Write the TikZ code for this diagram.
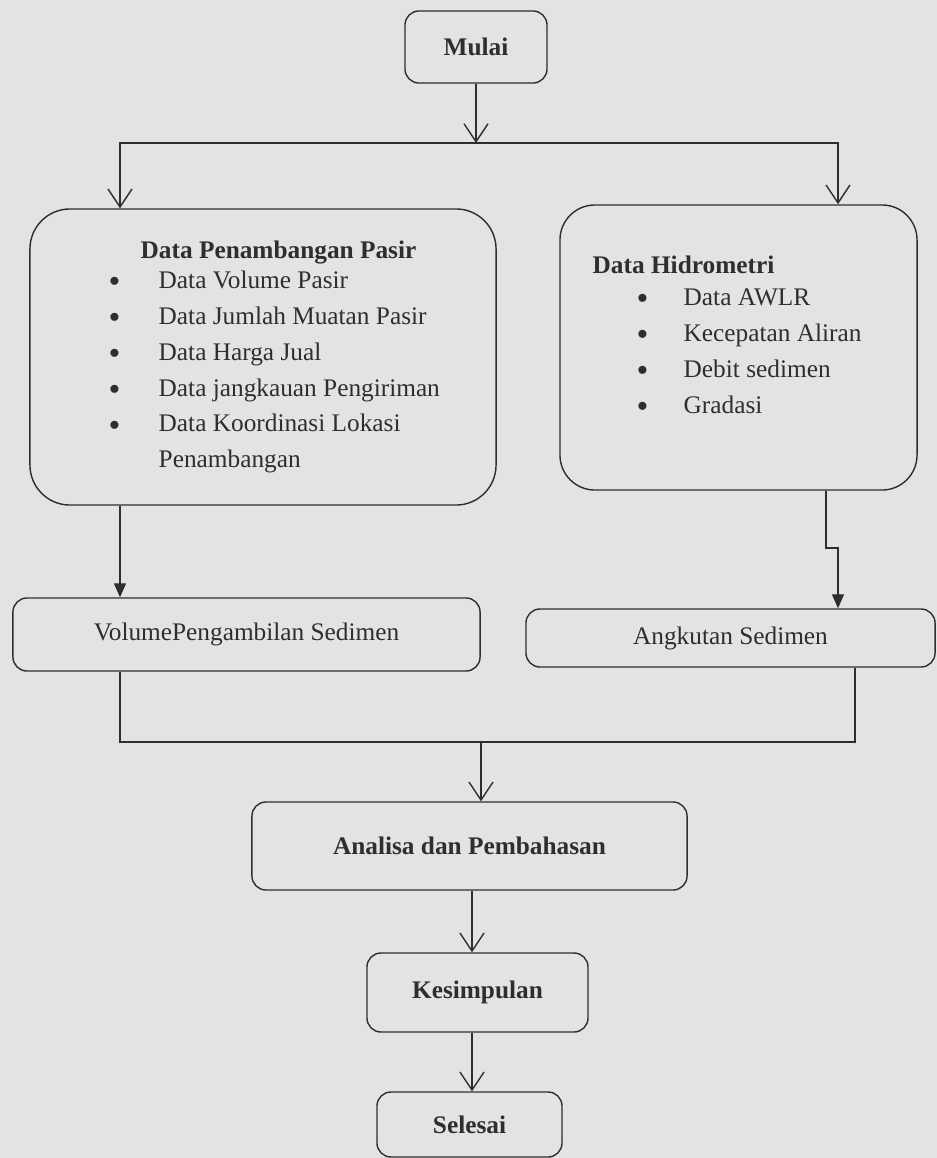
\documentclass[tikz,border=0pt]{standalone}
\usepackage{fontspec}
\setmainfont{Liberation Serif}
\usetikzlibrary{arrows.meta,positioning}
\definecolor{ink}{gray}{0.18}
\definecolor{paper}{gray}{0.89}
\newcommand{\blt}{\raisebox{-3pt}{\fontsize{24}{25.6}\selectfont\textbullet}}
\begin{document}
\begin{tikzpicture}[x=0.025cm,y=-0.025cm,line width=1pt,
  every node/.style={text=ink,font=\fontsize{18}{25.6}\selectfont},
  box/.style={draw=ink,fill=paper,rounded corners=0.35cm,inner sep=0pt,align=center},
  bigbox/.style={box,rounded corners=1cm},
  plain/.style={inner sep=0pt,anchor=base west},
  openhead/.style={draw=ink,-{Straight Barb[length=0.45cm,width=0.6cm]}},
  solidhead/.style={draw=ink,-{Triangle[length=0.35cm,width=0.3cm]}}]
  \fill[paper] (0,0) rectangle (937,1158);
  \useasboundingbox (0,0) rectangle (937,1158);

  % boxes
  \node[box,minimum width=3.55cm,minimum height=1.8cm] (mulai) at (476,47) {\textbf{Mulai}};
  \node[bigbox,minimum width=11.65cm,minimum height=7.4cm] (tambang) at (263,357) {};
  \node[bigbox,rounded corners=0.875cm,minimum width=8.925cm,minimum height=7.125cm] (hidro) at (738.5,347.5) {};
  \node[box,minimum width=11.675cm,minimum height=1.825cm] (volume) at (246.5,634.5) {VolumePengambilan Sedimen};
  \node[box,minimum width=10.225cm,minimum height=1.45cm] (angkut) at (730.5,638) {Angkutan Sedimen};
  \node[box,minimum width=10.875cm,minimum height=2.2cm] (analisa) at (469.5,846) {\textbf{Analisa dan Pembahasan}};
  \node[box,minimum width=5.525cm,minimum height=1.975cm] (simpul) at (477.5,992.5) {\textbf{Kesimpulan}};
  \node[box,minimum width=4.625cm,minimum height=1.625cm] (selesai) at (469.5,1124.5) {\textbf{Selesai}};

  % box contents
  \node[plain] (tambangjudul) at (140,258) {\textbf{Data Penambangan Pasir}};
  \node[plain] (tambanglist) at (108,288) {\begin{tabular}[t]{@{}p{1.25cm}@{}l@{}}
    \blt & Data Volume Pasir\\
    \blt & Data Jumlah Muatan Pasir\\
    \blt & Data Harga Jual\\
    \blt & Data jangkauan Pengiriman\\
    \blt & Data Koordinasi Lokasi\\
         & Penambangan
  \end{tabular}};
  \node[plain] (hidrojudul) at (592,273) {\textbf{Data Hidrometri}};
  \node[plain] (hidrolist) at (636,305) {\begin{tabular}[t]{@{}p{1.175cm}@{}l@{}}
    \blt & Data AWLR\\
    \blt & Kecepatan Aliran\\
    \blt & Debit sedimen\\
    \blt & Gradasi
  \end{tabular}};

  % connector points
  \coordinate (split) at (476,143);
  \coordinate (lx) at (120,0);
  \coordinate (rx) at (838,0);
  \coordinate (hx) at (826,0);
  \coordinate (jog) at (838,548);
  \coordinate (mx) at (855,0);
  \coordinate (merge) at (481,742);
  \coordinate (cx) at (472,0);

  % connectors
  \draw[openhead] (mulai) -- (split);
  \draw[openhead] (split) -| (tambang.north -| lx);
  \draw[openhead] (split) -| (hidro.north -| rx);
  \draw[solidhead] (tambang.south -| lx) -- (volume.north -| lx);
  \draw[solidhead] (hidro.south -| hx) |- (jog) -- (angkut.north -| jog);
  \draw[draw=ink] (volume.south -| lx) |- (merge) -| (angkut.south -| mx);
  \draw[openhead] (merge) -- (analisa.north -| merge);
  \draw[openhead] (analisa.south -| cx) -- (simpul.north -| cx);
  \draw[openhead] (simpul.south -| cx) -- (selesai.north -| cx);
\end{tikzpicture}
\end{document}
